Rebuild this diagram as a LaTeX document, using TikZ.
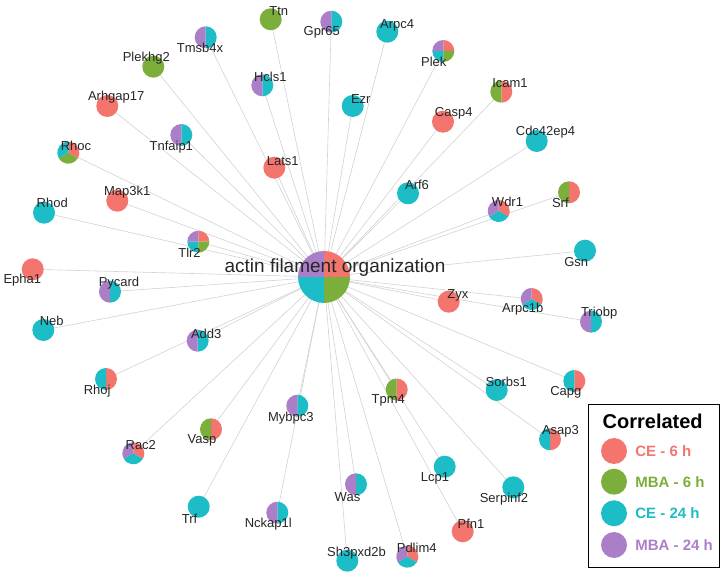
\documentclass[tikz,border=0pt]{standalone}
\usepackage{fontspec}
\setmainfont{Liberation Sans}
\usepackage{tikz}
\usetikzlibrary{positioning}

\definecolor{ce6}{HTML}{F3756E}
\definecolor{mba6}{HTML}{7BAE3A}
\definecolor{ce24}{HTML}{1CBDC6}
\definecolor{mba24}{HTML}{AB7FC8}

% pie slices round a named node, clockwise from the top
\newcommand{\piechart}[3]{%
  \gdef\pcount{0}%
  \foreach \cc in #3 {\xdef\pcount{\the\numexpr\pcount+1\relax}}%
  \foreach \cc [count=\i from 0] in #3 {
    \fill[\cc] (#1.center) -- ++({90-360*\i/\pcount}:#2)
      arc[start angle={90-360*\i/\pcount}, delta angle={-360/\pcount}, radius=#2] -- cycle;
  }%
}

% name / x / y / colours / label x / label y / text
\def\genelist{%
  tmsb4x/205.7/537.7/{ce24,mba24}/200/526.7/Tmsb4x,
  plekhg2/153.3/508.3/{mba6}/146.3/516.7/Plekhg2,
  arhgap17/107.3/469/{ce6}/116.2/477.7/Arhgap17,
  tnfaip1/181.3/440/{ce24,mba24}/171.3/428.3/Tnfaip1,
  rhoc/68.3/422.3/{ce6,mba6,ce24}/76/429.3/Rhoc,
  map3k1/117.3/374.3/{ce6}/127.2/382.7/Map3k1,
  rhod/44/362.3/{ce24}/52.2/371.7/Rhod,
  tlr2/198.3/333.3/{ce6,mba6,ce24,mba24}/189.5/322.3/Tlr2,
  epha1/32.7/305.7/{ce6}/22.3/295/Epha1,
  pycard/110/283.3/{ce24,mba24}/119/291.7/Pycard,
  neb/43.3/245/{ce24}/51.7/253.7/Neb,
  add3/197.7/234.3/{ce24,mba24}/206.2/241/Add3,
  rhoj/106/196/{ce6,ce24}/97.2/184.3/Rhoj,
  ttn/270.7/555.7/{mba6}/278.8/564.3/Ttn,
  gpr65/331.3/553.3/{ce24,mba24}/321.7/542.3/Gpr65,
  arpc4/387.3/543.3/{ce24}/397.2/550/Arpc4,
  plek/443.3/524/{ce6,mba6,ce24,mba24}/433.8/513/Plek,
  hcls1/262.3/489.7/{ce24,mba24}/270.3/498.3/Hcls1,
  ezr/352.7/469/{ce24}/360.8/475.7/Ezr,
  casp4/443/453.3/{ce6}/453.7/461.7/Casp4,
  lats1/274.3/407.3/{ce6}/282.7/414.3/Lats1,
  arf6/408/381.7/{ce24}/417/390/Arf6,
  icam1/501.3/483.3/{ce6,mba6}/510/492.3/Icam1,
  cdc42ep4/536.7/434/{ce24}/545.5/442.7/Cdc42ep4,
  srf/569/382.7/{ce6,mba6}/560.3/371.7/Srf,
  wdr1/498.7/364/{ce6,ce24,mba24}/507.5/372.7/Wdr1,
  gsn/585/324.3/{ce24}/576.2/313/Gsn,
  arpc1b/531.7/276/{ce6,ce24,mba24}/522.8/265.7/Arpc1b,
  triobp/591/253.3/{ce24,mba24}/599.2/262.3/Triobp,
  capg/574.3/194/{ce6,ce24}/565.8/182.7/Capg,
  sorbs1/496.7/185/{ce24}/506.3/193.3/Sorbs1,
  zyx/448.7/273.3/{ce6}/457.8/280/Zyx,
  tpm4/396.7/185.5/{ce6,mba6}/388.3/174.3/Tpm4,
  asap3/550/135.7/{ce6,ce24}/560.5/144/Asap3,
  serpinf2/513.3/87.7/{ce24}/504/76.3/Serpinf2,
  mybpc3/297.3/169.3/{ce24,mba24}/290.8/156.7/Mybpc3,
  lcp1/444.7/108.3/{ce24}/435/96.7/Lcp1,
  was/356/90.7/{ce24,mba24}/347.5/78.3/Was,
  pfn1/462.7/43.7/{ce6}/471/51/Pfn1,
  nckap1l/277.3/62.3/{ce24,mba24}/268.3/50.7/Nckap1l,
  sh3pxd2b/347.3/14.3/{ce24}/356.5/21.7/Sh3pxd2b,
  pdlim4/407.3/18.3/{ce6,ce24,mba24}/416.7/27/Pdlim4,
  vasp/211/145.7/{ce6,mba6}/202/134.3/Vasp,
  rac2/133.3/121.7/{ce6,ce24,mba24}/140.8/130/Rac2,
  trf/198.7/68.3/{ce24}/189.5/56/Trf%
}

\begin{document}
\begin{tikzpicture}[
    x=1pt, y=1pt,
    gene/.style={circle, inner sep=0pt, minimum size=22pt},
    hubnode/.style={circle, inner sep=0pt, minimum size=52pt},
    lbl/.style={inner sep=0pt, text=black!85, font=\fontsize{13}{15}\selectfont},
    link/.style={draw=gray!35, line width=0.6pt},
    keydot/.style={circle, inner sep=0pt, minimum size=26pt},
    keytext/.style={anchor=west, inner sep=0pt, font=\bfseries\fontsize{15}{17}\selectfont}
]
\useasboundingbox (0,0) rectangle (722,575);

% Hub
\node[hubnode] (hub) at (324,298) {};

% Genes
\foreach \n/\x/\y/\col/\lx/\ly/\t in \genelist {
  \node[gene] (\n) at (\x,\y) {};
}

% Connections
\foreach \n/\x/\y/\col/\lx/\ly/\t in \genelist {
  \draw[link] (hub.center) -- (\n.center);
}

% Pies and labels
\foreach \n/\x/\y/\col/\lx/\ly/\t in \genelist {
  \piechart{\n}{11pt}{\col}
}
\piechart{hub}{26pt}{{ce6,mba6,ce24,mba24}}
\foreach \n/\x/\y/\col/\lx/\ly/\t in \genelist {
  \node[lbl] (\n-lbl) at (\lx,\ly) {\t};
}
\node[lbl, font=\fontsize{19}{21}\selectfont] (hub-lbl) at (335,307) {actin filament organization};

% Legend
\node[draw, line width=1.2pt, minimum width=131pt, minimum height=163pt, anchor=north west] (legend) at (588,171) {};
\node[inner sep=0pt, font=\bfseries\fontsize{20}{22}\selectfont] (legend-title) at (652.7,153.3) {Correlated};
\foreach \k/\ty/\txt in {ce6/124/CE - 6 h, mba6/93.3/MBA - 6 h, ce24/61.7/CE - 24 h, mba24/30/MBA - 24 h} {
  \node[keydot, fill=\k] (key-\k) at (614,\ty) {};
  \node[keytext, text=\k, right=8pt of key-\k] (key-\k-lbl) {\txt};
}

\end{tikzpicture}
\end{document}
